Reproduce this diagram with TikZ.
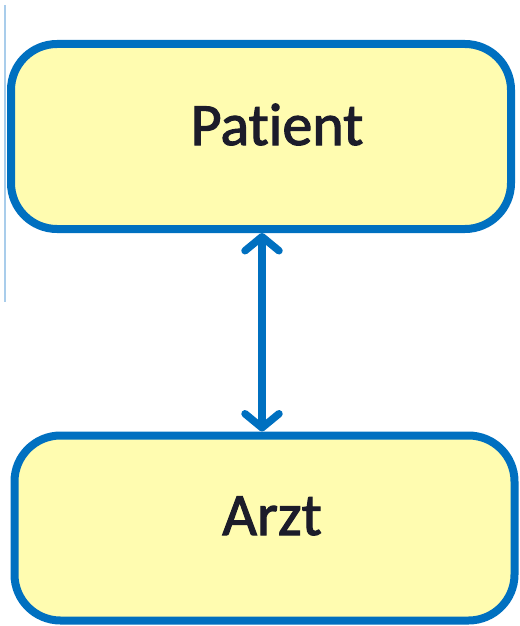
\documentclass[tikz,border=0pt]{standalone}
\usepackage{fontspec}
\setmainfont[Ligatures=NoCommon,FakeBold=1.8]{Carlito}
\usepackage{xcolor}
\usepackage{tikz}
\usetikzlibrary{arrows.meta}
\definecolor{boxblue}{HTML}{0070C0}
\definecolor{boxyellow}{HTML}{FFFCB0}
\definecolor{edgeblue}{HTML}{A9CDEB}
\definecolor{labelink}{HTML}{1C1C2A}

\begin{document}
\begin{tikzpicture}[x=1pt,y=-1pt,
  box/.style={draw=boxblue,line width=8pt,fill=boxyellow,rounded corners=46pt,minimum width=500pt,minimum height=185pt,inner sep=0pt},
  lbl/.style={font=\fontsize{60}{64}\selectfont,text=labelink,inner sep=0pt},
  link/.style={draw=boxblue,line width=7.5pt,{Straight Barb[length=14pt,width=34pt,round]}-{Straight Barb[length=14pt,width=34pt,round]}}]
\pgfmathsetmacro{\xo}{0.0}
\pgfmathsetmacro{\yo}{0.0}
\useasboundingbox (0,0) rectangle (519,626);
  \draw[edgeblue,line width=2pt] (5+\xo,5+\yo) -- (5+\xo,302+\yo);
  \node[box] (patient) at (261+\xo,136.5+\yo) {};
  \node[box] (arzt) at (264.5+\xo,528+\yo) {};
  \node[lbl,anchor=base] (patienttext) at (277+\xo,145+\yo) {Patient};
  \node[lbl,anchor=base] (arzttext) at (272+\xo,535+\yo) {Arzt};
  \draw[link] ([xshift=1pt]patient.south) -- ([xshift=-2.5pt]arzt.north);
\end{tikzpicture}
\end{document}
